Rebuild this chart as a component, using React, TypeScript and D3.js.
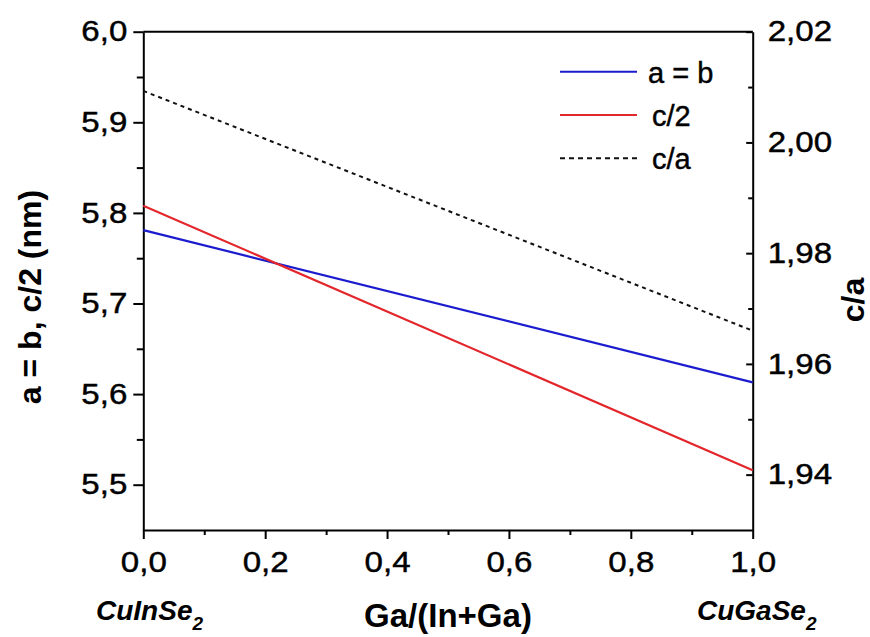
import React, { useEffect, useRef } from "react";
import * as d3 from "d3";

// Composition Ga/(In+Ga) and lattice parameters (Vegard's law)
const gaFraction = [0, 1];
const latticeA = [5.781, 5.613];
const halfC = [5.808, 5.516];
const ratioCA = [2.0093, 1.966];

const xTicks = [0, 0.2, 0.4, 0.6, 0.8, 1.0];
const xMinorTicks = [0.1, 0.3, 0.5, 0.7, 0.9];
const leftTicks = [5.5, 5.6, 5.7, 5.8, 5.9, 6.0];
const leftMinorTicks = [5.55, 5.65, 5.75, 5.85, 5.95];
const rightTicks = [1.94, 1.96, 1.98, 2.0, 2.02];
const rightMinorTicks = [1.95, 1.97, 1.99, 2.01];

const seriesNames = ["a = b", "c/2", "c/a"];
const endLabels = ["CuInSe", "CuGaSe"];

const W = 870;
const H = 637;
const FONT = "'Liberation Sans', Arial, Helvetica, sans-serif";
const BLUE = "#1c1ccf";
const RED = "#e3262b";

export default function App() {
  const ref = useRef<SVGSVGElement | null>(null);

  useEffect(() => {
    const svg = d3.select(ref.current);
    svg.selectAll("*").remove();

    const left = 143.3;
    const right = 752.7;
    const top = 31.7;
    const bottom = 530;

    const x = d3.scaleLinear().domain([0, 1]).range([left, right]);
    const yL = d3.scaleLinear().domain([5.45, 6.0]).range([bottom, top]);
    const yR = d3.scaleLinear().domain([1.93, 2.02]).range([bottom, top]);

    const comma = (f: string) => (d: d3.NumberValue) =>
      d3.format(f)(+d).replace(".", ",");

    const styleAxis = (g: d3.Selection<SVGGElement, unknown, null, undefined>, size: number) => {
      g.attr("font-family", FONT).attr("font-size", size);
      g.selectAll("line").attr("stroke", "#000").attr("stroke-width", 2);
      g.selectAll("path").attr("stroke", "#000").attr("stroke-width", 2);
      g.selectAll("text").attr("fill", "#000").attr("stroke", "#000").attr("stroke-width", 0.45);
    };

    // tick labels are set slightly wide
    const widen = (g: d3.Selection<SVGGElement, unknown, null, undefined>) => {
      g.selectAll<SVGTextElement, unknown>("text").each(function () {
        const w = this.getComputedTextLength();
        if (w > 0) {
          d3.select(this).attr("textLength", w * 1.14).attr("lengthAdjust", "spacingAndGlyphs");
        }
      });
    };

    // frame top line
    svg
      .append("line")
      .attr("x1", left)
      .attr("x2", right)
      .attr("y1", top)
      .attr("y2", top)
      .attr("stroke", "#000")
      .attr("stroke-width", 2);

    // bottom axis
    const gx = svg
      .append("g")
      .attr("transform", `translate(0,${bottom})`)
      .call(
        d3.axisBottom(x).tickValues(xTicks).tickSizeInner(9).tickSizeOuter(0).tickPadding(12).tickFormat(comma(".1f"))
      );
    styleAxis(gx, 29);
    widen(gx);
    const gxm = svg
      .append("g")
      .attr("transform", `translate(0,${bottom})`)
      .call(d3.axisBottom(x).tickValues(xMinorTicks).tickSizeInner(5).tickSizeOuter(0).tickFormat(() => ""));
    gxm.select(".domain").remove();
    styleAxis(gxm, 10);

    // left axis
    const gy = svg
      .append("g")
      .attr("transform", `translate(${left},0)`)
      .call(
        d3.axisLeft(yL).tickValues(leftTicks).tickSizeInner(10).tickSizeOuter(0).tickPadding(6).tickFormat(comma(".1f"))
      );
    styleAxis(gy, 29);
    widen(gy);
    const gym = svg
      .append("g")
      .attr("transform", `translate(${left},0)`)
      .call(d3.axisLeft(yL).tickValues(leftMinorTicks).tickSizeInner(6.5).tickSizeOuter(0).tickFormat(() => ""));
    gym.select(".domain").remove();
    styleAxis(gym, 10);

    // right axis, ticks pointing inward
    const gr = svg
      .append("g")
      .attr("transform", `translate(${right},0)`)
      .call(
        d3.axisRight(yR).tickValues(rightTicks).tickSizeInner(-6.5).tickSizeOuter(0).tickPadding(15).tickFormat(comma(".2f"))
      );
    styleAxis(gr, 29);
    widen(gr);
    const grm = svg
      .append("g")
      .attr("transform", `translate(${right},0)`)
      .call(d3.axisRight(yR).tickValues(rightMinorTicks).tickSizeInner(-4.5).tickSizeOuter(0).tickFormat(() => ""));
    grm.select(".domain").remove();
    styleAxis(grm, 10);

    // data lines
    const rowsA = gaFraction.map((g, i) => [g, latticeA[i]] as [number, number]);
    const rowsC = gaFraction.map((g, i) => [g, halfC[i]] as [number, number]);
    const rowsR = gaFraction.map((g, i) => [g, ratioCA[i]] as [number, number]);
    const lineL = d3.line<[number, number]>().x((d) => x(d[0])).y((d) => yL(d[1]));
    const lineR = d3.line<[number, number]>().x((d) => x(d[0])).y((d) => yR(d[1]));

    svg.append("path").attr("d", lineR(rowsR)).attr("fill", "none").attr("stroke", "#111").attr("stroke-width", 2).attr("stroke-dasharray", "4,4");
    svg.append("path").attr("d", lineL(rowsA)).attr("fill", "none").attr("stroke", BLUE).attr("stroke-width", 2.2);
    svg.append("path").attr("d", lineL(rowsC)).attr("fill", "none").attr("stroke", RED).attr("stroke-width", 2.2);

    // legend
    const legendStyles = [
      { stroke: BLUE, dash: null },
      { stroke: RED, dash: null },
      { stroke: "#111", dash: "5,4" },
    ];
    const legendX = [648, 652, 652];
    seriesNames.forEach((name, i) => {
      const ly = 71.7 + i * 43.3;
      const ln = svg
        .append("line")
        .attr("x1", 560)
        .attr("x2", 637)
        .attr("y1", ly)
        .attr("y2", ly)
        .attr("stroke", legendStyles[i].stroke)
        .attr("stroke-width", 2);
      if (legendStyles[i].dash) ln.attr("stroke-dasharray", legendStyles[i].dash as string);
      svg
        .append("text")
        .attr("x", legendX[i])
        .attr("y", ly + 11)
        .attr("font-family", FONT)
        .attr("font-size", 29)
        .attr("fill", "#000")
        .attr("stroke", "#000")
        .attr("stroke-width", 0.45)
        .text(name);
    });

    // axis titles
    svg
      .append("text")
      .attr("transform", `translate(41,297) rotate(-90)`)
      .attr("text-anchor", "middle")
      .attr("font-family", FONT)
      .attr("font-weight", "bold")
      .attr("font-size", 32)
      .text("a = b, c/2 (nm)");
    svg
      .append("text")
      .attr("transform", `translate(864,300) rotate(-90)`)
      .attr("text-anchor", "middle")
      .attr("font-family", FONT)
      .attr("font-weight", "bold")
      .attr("font-size", 32)
      .text("c/a");
    svg
      .append("text")
      .attr("x", (left + right) / 2)
      .attr("y", 627)
      .attr("text-anchor", "middle")
      .attr("font-family", FONT)
      .attr("font-weight", "bold")
      .attr("font-size", 33)
      .text("Ga/(In+Ga)");

    // end-member compound labels
    const endX = [96, 697];
    endLabels.forEach((lab, i) => {
      const t = svg
        .append("text")
        .attr("x", endX[i])
        .attr("y", 620)
        .attr("font-family", FONT)
        .attr("font-weight", "bold")
        .attr("font-style", "italic")
        .attr("font-size", 28)
        .text(lab);
      t.append("tspan").attr("dy", 10).attr("font-size", 19).text("2");
    });
  }, []);

  return (
    <svg
      ref={ref}
      width={W}
      height={H}
      style={{ position: "absolute", left: 0, top: 0, background: "#fff" }}
    />
  );
}
